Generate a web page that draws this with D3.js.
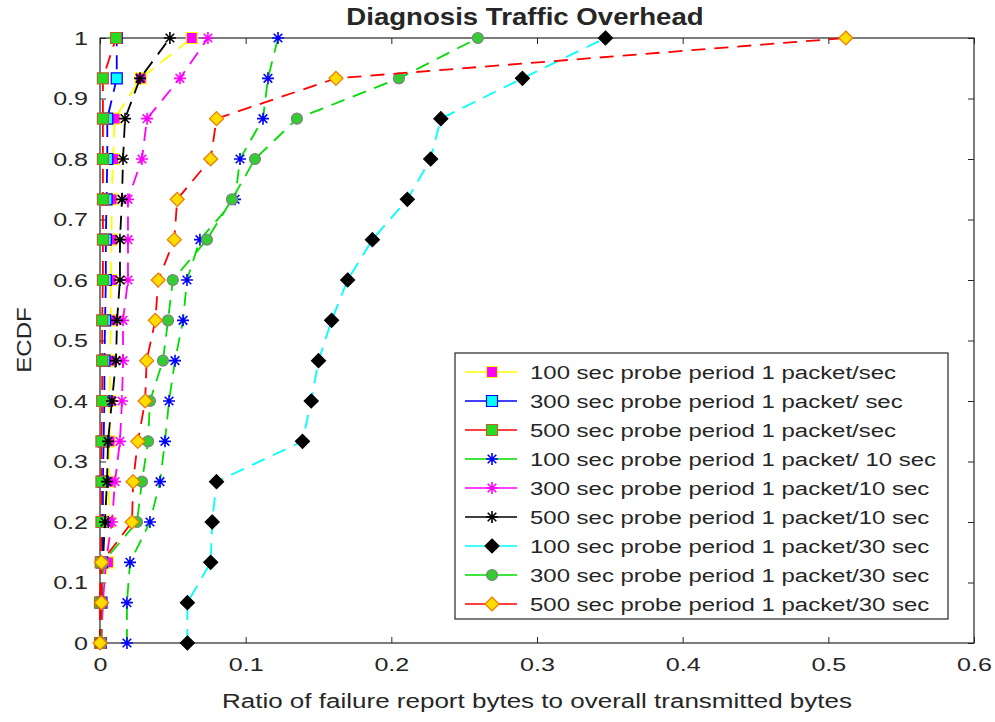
<!DOCTYPE html>
<html>
<head>
<meta charset="utf-8">
<script src="https://cdn.jsdelivr.net/npm/d3@7"></script>
<style>
body { margin: 0; background: #fff; }
text { font-family: "Liberation Sans", Arial, sans-serif; fill: #262626; }
</style>
</head>
<body>
<svg width="995" height="722"></svg>
<script>
// ECDF levels (y) shared by every series
var ecdf = [0, 0.0667, 0.1333, 0.2, 0.2667, 0.3333, 0.4, 0.4667, 0.5333, 0.6, 0.6667, 0.7333, 0.8, 0.8667, 0.9333, 1];

// x values, one array per series
var p100_1s  = [0.0005, 0.001, 0.0055, 0.006, 0.006, 0.0065, 0.007, 0.007, 0.0075, 0.0075, 0.008, 0.008, 0.009, 0.010, 0.028, 0.063];
var p300_1s  = [0.0005, 0.001, 0.0015, 0.002, 0.002, 0.0025, 0.003, 0.003, 0.0035, 0.004, 0.004, 0.0045, 0.005, 0.005, 0.0115, 0.0115];
var p500_1s  = [0, 0, 0.0005, 0.001, 0.001, 0.001, 0.0015, 0.0015, 0.0015, 0.002, 0.002, 0.002, 0.002, 0.002, 0.002, 0.011];
var p100_10s = [0.0185, 0.0185, 0.0206, 0.0343, 0.0412, 0.0446, 0.0474, 0.0515, 0.057, 0.0597, 0.0686, 0.0927, 0.0961, 0.1119, 0.1153, 0.1222];
var p300_10s = [0.001, 0.002, 0.004, 0.0082, 0.0103, 0.0137, 0.0151, 0.0158, 0.0158, 0.0192, 0.0192, 0.0192, 0.0288, 0.0323, 0.0549, 0.0741];
var p500_10s = [0, 0.001, 0.002, 0.0034, 0.0048, 0.0055, 0.0082, 0.011, 0.0117, 0.0137, 0.0137, 0.0151, 0.0158, 0.0172, 0.0275, 0.048];
var p100_30s = [0.06, 0.06, 0.076, 0.077, 0.080, 0.139, 0.145, 0.150, 0.159, 0.170, 0.187, 0.211, 0.227, 0.234, 0.290, 0.347];
var p300_30s = [0.001, 0.001, 0.002, 0.0254, 0.0288, 0.033, 0.0343, 0.0432, 0.0467, 0.050, 0.0734, 0.0906, 0.1064, 0.1352, 0.2052, 0.2594];
var p500_30s = [0, 0.001, 0.001, 0.022, 0.0227, 0.026, 0.031, 0.032, 0.038, 0.040, 0.051, 0.053, 0.076, 0.080, 0.162, 0.512];

var seriesNames = [
    "100 sec probe period 1 packet/sec",
    "300 sec probe period 1 packet/ sec",
    "500 sec probe period 1 packet/sec",
    "100 sec probe period 1 packet/ 10 sec",
    "300 sec probe period 1 packet/10 sec",
    "500 sec probe period 1 packet/10 sec",
    "100 sec probe period 1 packet/30 sec",
    "300 sec probe period 1 packet/30 sec",
    "500 sec probe period 1 packet/30 sec"
];
var seriesX = [p100_1s, p300_1s, p500_1s, p100_10s, p300_10s, p500_10s, p100_30s, p300_30s, p500_30s];

var xTicks = [0, 0.1, 0.2, 0.3, 0.4, 0.5, 0.6];
var xTickLabels = ["0", "0.1", "0.2", "0.3", "0.4", "0.5", "0.6"];
var yTicks = [0, 0.1, 0.2, 0.3, 0.4, 0.5, 0.6, 0.7, 0.8, 0.9, 1];
var yTickLabels = ["0", "0.1", "0.2", "0.3", "0.4", "0.5", "0.6", "0.7", "0.8", "0.9", "1"];

// styles
var lineColors  = ["#ffff00", "#0000ff", "#ff0000", "#00dd00", "#ff00ff", "#000000", "#00ffff", "#00dd00", "#ff0000"];
var markerShape = ["square", "square", "square", "star", "star", "star", "diamond", "circle", "diamond"];
var markerFill  = ["#ff00ff", "#00ffff", "#22dd22", "none", "none", "none", "#000000", "#33cc33", "#ffdd00"];
var markerEdge  = ["#ffff00", "#0000ff", "#b8632a", "#0000ff", "#ff00ff", "#000000", "#000000", "#808080", "#ee7700"];

var axisColor = "#262626";
var svg = d3.select("svg");
var plotLeft = 100, plotRight = 974, plotTop = 38, plotBottom = 643;

var x = d3.scaleLinear().domain([0, 0.6]).range([plotLeft, plotRight]);
var y = d3.scaleLinear().domain([0, 1]).range([plotBottom, plotTop]);

// stretch text horizontally, the reference type is wide
function stretch(sel, k) {
    sel.each(function() {
        var w = this.getComputedTextLength();
        d3.select(this).attr("textLength", w * k).attr("lengthAdjust", "spacingAndGlyphs");
    });
}

function markerPath(shape) {
    if (shape == "square") return "M-5.5,-5.5H5.5V5.5H-5.5Z";
    if (shape == "diamond") return "M0,-7L7,0L0,7L-7,0Z";
    if (shape == "circle") return d3.symbol(d3.symbolCircle, 95)();
    // MATLAB style asterisk: plus and cross
    return "M-6,0H6M0,-6V6M-4.3,-4.3L4.3,4.3M-4.3,4.3L4.3,-4.3";
}

svg.append("rect").attr("width", 995).attr("height", 722).attr("fill", "#fff");

// axes
var xAxis = d3.axisBottom(x).tickValues(xTicks)
    .tickFormat(function(d, i) { return xTickLabels[i]; })
    .tickSizeInner(-6).tickSizeOuter(0).tickPadding(15);
var yAxis = d3.axisLeft(y).tickValues(yTicks)
    .tickFormat(function(d, i) { return yTickLabels[i]; })
    .tickSizeInner(-6).tickSizeOuter(0).tickPadding(12);

var gx = svg.append("g").attr("transform", "translate(0," + plotBottom + ")").call(xAxis);
var gy = svg.append("g").attr("transform", "translate(" + plotLeft + ",0)").call(yAxis);
svg.append("g").attr("transform", "translate(0," + plotTop + ")")
    .call(d3.axisTop(x).tickValues(xTicks).tickFormat("").tickSizeInner(-6).tickSizeOuter(0));
svg.append("g").attr("transform", "translate(" + plotRight + ",0)")
    .call(d3.axisRight(y).tickValues(yTicks).tickFormat("").tickSizeInner(-6).tickSizeOuter(0));

svg.selectAll(".domain").remove();
svg.selectAll(".tick line").attr("stroke", axisColor);
svg.selectAll(".tick text").attr("font-size", 19).attr("fill", "#444")
    .attr("font-family", "\"Liberation Sans\", Arial, sans-serif");
stretch(gx.selectAll(".tick text"), 1.32);
stretch(gy.selectAll(".tick text"), 1.32);

svg.append("rect")
    .attr("x", plotLeft).attr("y", plotTop)
    .attr("width", plotRight - plotLeft).attr("height", plotBottom - plotTop)
    .attr("fill", "none").attr("stroke", axisColor).attr("stroke-width", 1.2);

// series
var line = d3.line()
    .x(function(d) { return x(d[0]); })
    .y(function(d) { return y(d[1]); });

var plot = svg.append("g");
seriesX.forEach(function(xs, i) {
    var pts = xs.map(function(v, j) { return [v, ecdf[j]]; });
    var g = plot.append("g").attr("class", "series");
    g.append("path")
        .attr("d", line(pts))
        .attr("fill", "none")
        .attr("stroke", lineColors[i])
        .attr("stroke-width", 1.8)
        .attr("stroke-dasharray", "14,9");
    g.selectAll("path.mk").data(pts).enter().append("path")
        .attr("class", "mk")
        .attr("transform", function(d) { return "translate(" + x(d[0]) + "," + y(d[1]) + ")"; })
        .attr("d", markerPath(markerShape[i]))
        .attr("fill", markerFill[i])
        .attr("stroke", markerEdge[i])
        .attr("stroke-width", markerShape[i] == "star" ? 1.6 : 1.2);
});

// title and labels
var title = svg.append("text")
    .attr("x", 525).attr("y", 25)
    .attr("text-anchor", "middle")
    .attr("font-size", 23).attr("font-weight", "bold").attr("fill", "#111")
    .text("Diagnosis Traffic Overhead");
stretch(title, 1.2);

var xl = svg.append("text")
    .attr("x", (plotLeft + plotRight) / 2).attr("y", 708)
    .attr("text-anchor", "middle")
    .attr("font-size", 20).attr("fill", "#444")
    .text("Ratio of failure report bytes to overall transmitted bytes");
stretch(xl, 1.3);

var yl = svg.append("text")
    .attr("transform", "translate(31,340) rotate(-90)")
    .attr("text-anchor", "middle")
    .attr("font-size", 20).attr("fill", "#444")
    .text("ECDF");
stretch(yl, 1.2);

// legend
var lg = svg.append("g");
lg.append("rect")
    .attr("x", 455).attr("y", 353).attr("width", 493).attr("height", 266)
    .attr("fill", "#fff").attr("stroke", axisColor).attr("stroke-width", 1.2);
var item = lg.selectAll("g.item").data(seriesNames).enter().append("g")
    .attr("class", "item")
    .attr("transform", function(d, i) { return "translate(0," + (372 + i * 29) + ")"; });
item.append("line")
    .attr("x1", 465).attr("x2", 517)
    .attr("stroke", function(d, i) { return lineColors[i]; })
    .attr("stroke-width", 1.5);
item.append("path")
    .attr("transform", "translate(492,0)")
    .attr("d", function(d, i) { return markerPath(markerShape[i]); })
    .attr("fill", function(d, i) { return markerFill[i]; })
    .attr("stroke", function(d, i) { return markerEdge[i]; })
    .attr("stroke-width", function(d, i) { return markerShape[i] == "star" ? 1.6 : 1.2; });
var lt = item.append("text")
    .attr("x", 530).attr("y", 7)
    .attr("font-size", 18).attr("fill", "#333")
    .text(function(d) { return d; });
stretch(lt, 1.33);
</script>
</body>
</html>
